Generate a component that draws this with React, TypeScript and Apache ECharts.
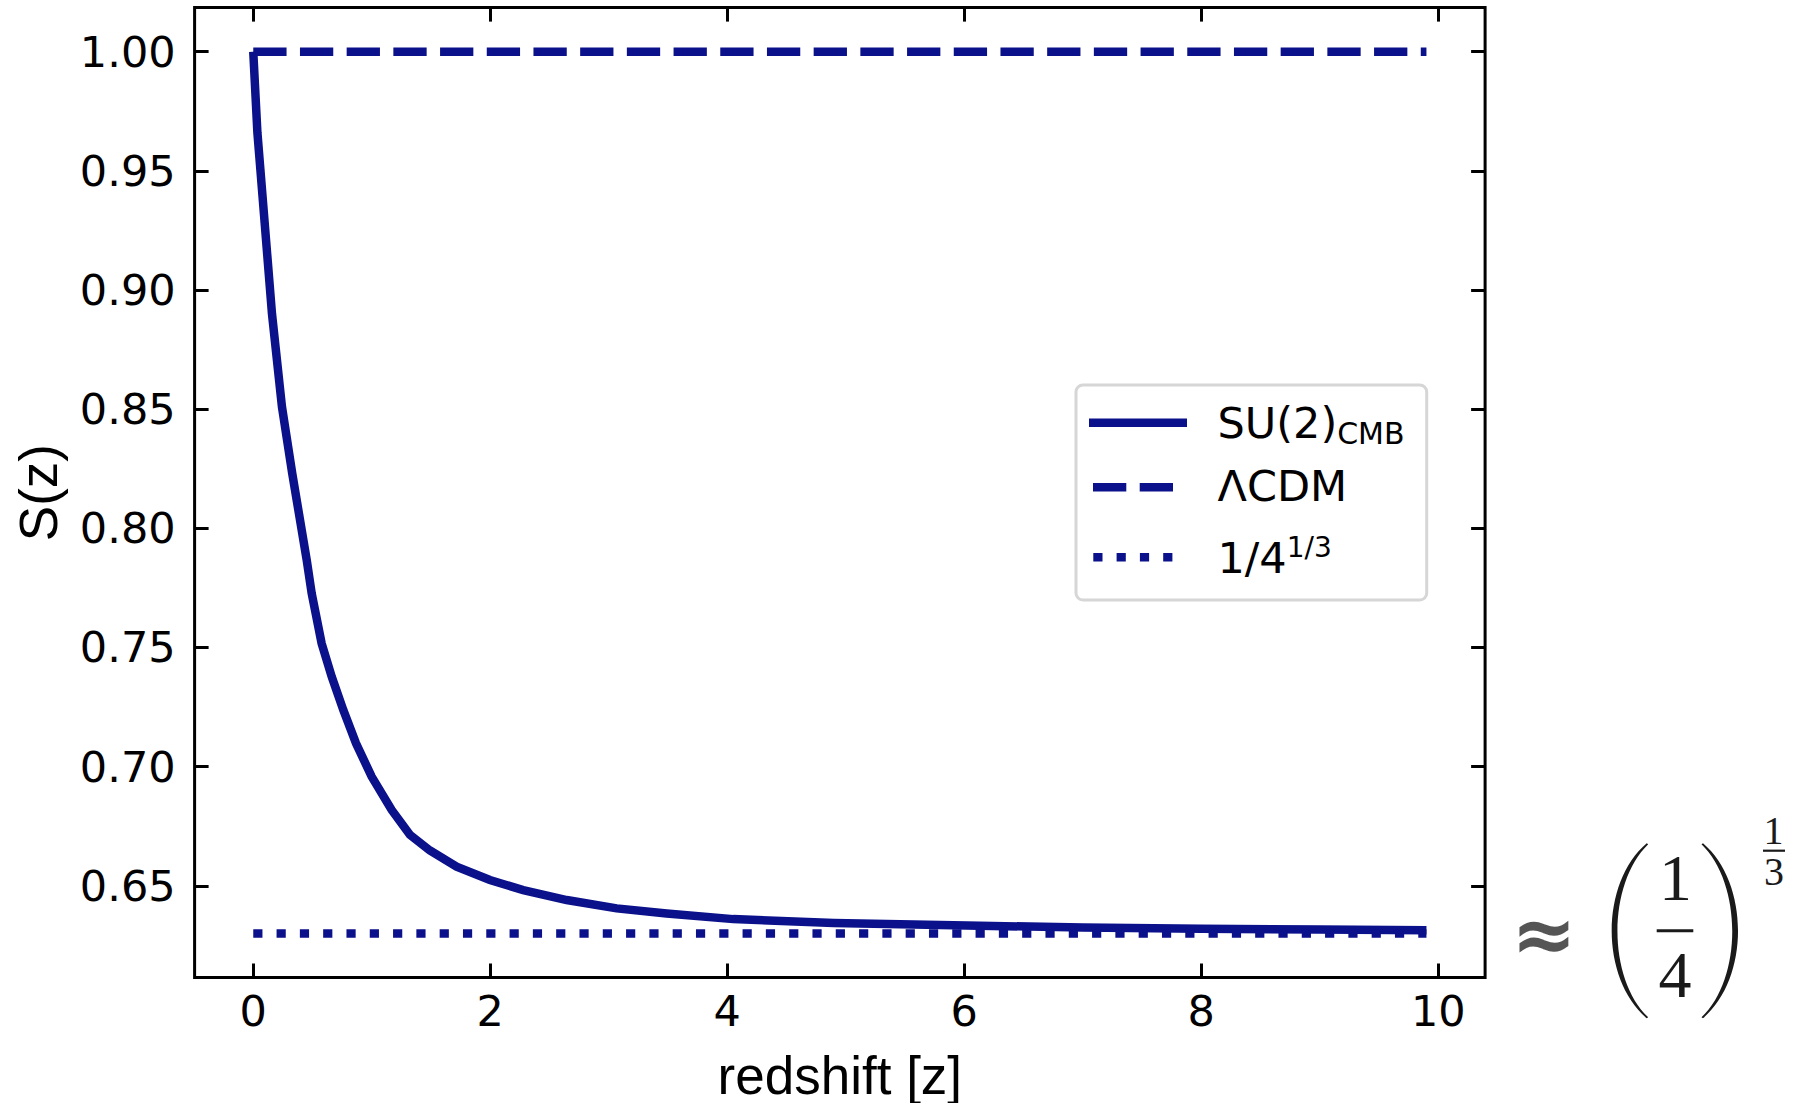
import React, { useEffect, useRef } from "react";
import * as echarts from "echarts";

// ---- data ----
const zSU2 = [0, 0.035, 0.158, 0.242, 0.329, 0.451, 0.493, 0.577, 0.662, 0.76, 0.867, 0.999, 1.168, 1.322, 1.491, 1.716, 1.997, 2.278, 2.645, 3.067, 3.489, 4.05, 4.9, 6.02, 7.0, 8.0, 9.0, 9.9];
const sSU2 = [1.0, 0.966, 0.89, 0.851, 0.823, 0.7867, 0.7727, 0.7517, 0.7377, 0.7237, 0.7098, 0.6958, 0.6818, 0.6714, 0.6648, 0.658, 0.6524, 0.6482, 0.644, 0.6405, 0.6384, 0.636, 0.6344, 0.6333, 0.6325, 0.632, 0.6316, 0.6313];
const zRef = [0, 9.9];
const sLCDM = [1.0, 1.0];
const sLimit = [0.63, 0.63];
const xTicks = [0, 2, 4, 6, 8, 10];
const yTicks = [0.65, 0.7, 0.75, 0.8, 0.85, 0.9, 0.95, 1.0];
const seriesNames = ["SU(2)CMB", "ΛCDM", "1/4^(1/3)"];

const NAVY = "#0b118a";
const LW = 8.5;
const DASH = [33.3, 13.4];
const DOT = [9.2, 14.1];

const PAREN_D = "M35 0 C-11.7 40 -11.7 135 35 175 L36.5 174 C-4.5 135 -4.5 41 36.5 1 Z";
echarts.graphic.registerShape("lparen", echarts.graphic.extendPath(PAREN_D, {}));

const tickFont = { fontFamily: "DejaVu Sans", fontSize: 43, color: "#000" };
const nameFont = { fontFamily: "Liberation Sans", fontSize: 53, color: "#000" };

function pairs(xs: number[], ys: number[]) {
  return xs.map((x, i) => [x, ys[i]]);
}

export default function App() {
  const ref = useRef<HTMLDivElement>(null);
  useEffect(() => {
    if (!ref.current) return;
    const chart = echarts.init(ref.current, undefined, { renderer: "svg" });
    const tickStyle = (vals: number[]) => ({
      show: true,
      inside: true,
      length: 14,
      lineStyle: { color: "#000", width: 3 },
      customValues: vals,
    });
    const noLine = { show: false, onZero: false };
    const xMin = -0.495, xMax = 10.395, yMin = 0.6115, yMax = 1.0185;
    const legendRich = {
      m: { fontFamily: "DejaVu Sans", fontSize: 43, lineHeight: 52 },
      s: { fontFamily: "DejaVu Sans", fontSize: 30, verticalAlign: "bottom" },
      p: { fontFamily: "DejaVu Sans", fontSize: 28, verticalAlign: "top", padding: [2, 0, 0, 0] },
    };
    const serif = "Liberation Serif";
    const eqColor = "#1a1a1a";
    const legendText = (text: string, y: number) => ({
      type: "text", x: 1217.5, y, z: 101,
      style: { text, fill: "#000", align: "left", verticalAlign: "middle", fontFamily: "DejaVu Sans", fontSize: 43, rich: legendRich },
    });
    const option: any = {
      animation: false,
      backgroundColor: "#fff",
      grid: {
        left: 194.6, top: 7.6, width: 1290.5, height: 969.9,
        show: true, borderColor: "#000", borderWidth: 3, backgroundColor: "transparent",
        containLabel: false, outerBoundsMode: "none",
      },
      xAxis: [
        {
          type: "value", position: "bottom", min: xMin, max: xMax,
          axisLine: noLine, splitLine: { show: false },
          axisTick: tickStyle(xTicks),
          axisLabel: { ...tickFont, margin: 12, customValues: xTicks, formatter: (v: number) => String(Math.round(v)) },
          name: "redshift [z]", nameLocation: "middle", nameGap: 71, nameTextStyle: nameFont,
        },
        {
          type: "value", position: "top", min: xMin, max: xMax,
          axisLine: noLine, splitLine: { show: false },
          axisTick: tickStyle(xTicks), axisLabel: { show: false },
        },
      ],
      yAxis: [
        {
          type: "value", position: "left", min: yMin, max: yMax,
          axisLine: noLine, splitLine: { show: false },
          axisTick: tickStyle(yTicks),
          axisLabel: { ...tickFont, margin: 19, customValues: yTicks, formatter: (v: number) => v.toFixed(2) },
          name: "S(z)", nameLocation: "middle", nameGap: 130, nameTextStyle: nameFont,
        },
        {
          type: "value", position: "right", min: yMin, max: yMax,
          axisLine: noLine, splitLine: { show: false },
          axisTick: tickStyle(yTicks), axisLabel: { show: false },
        },
      ],
      series: [
        {
          name: seriesNames[0], type: "line", data: pairs(zSU2, sSU2), symbol: "none", showSymbol: false,
          lineStyle: { color: NAVY, width: LW, cap: "butt", join: "miter" }, itemStyle: { color: NAVY },
        },
        {
          name: seriesNames[1], type: "line", data: pairs(zRef, sLCDM), symbol: "none", showSymbol: false,
          lineStyle: { color: NAVY, width: LW, type: DASH, cap: "butt" }, itemStyle: { color: NAVY },
        },
        {
          name: seriesNames[2], type: "line", data: pairs(zRef, sLimit), symbol: "none", showSymbol: false,
          lineStyle: { color: NAVY, width: LW, type: DOT, cap: "butt" }, itemStyle: { color: NAVY },
        },
      ],
      graphic: {
        elements: [
          // legend box
          {
            type: "rect", shape: { x: 1076, y: 385, width: 350.7, height: 215, r: 7 },
            style: { fill: "#fff", stroke: "#d6d6d6", lineWidth: 3 }, z: 100,
          },
          { type: "line", shape: { x1: 1089, y1: 422.7, x2: 1187, y2: 422.7 }, style: { stroke: NAVY, lineWidth: LW }, z: 101 },
          { type: "line", shape: { x1: 1093, y1: 487.3, x2: 1186, y2: 487.3 }, style: { stroke: NAVY, lineWidth: LW, lineDash: DASH }, z: 101 },
          { type: "line", shape: { x1: 1093.3, y1: 557.3, x2: 1173, y2: 557.3 }, style: { stroke: NAVY, lineWidth: LW, lineDash: DOT }, z: 101 },
          legendText("{m|SU(2)}{s|CMB}", 422.5),
          legendText("{m|ΛCDM}", 486),
          legendText("{m|1/4}{p|1/3}", 557.5),
          // equation on the right
          {
            type: "text", x: 1544, y: 934,
            style: { text: "≈", fill: "#555", align: "center", verticalAlign: "middle", fontFamily: "DejaVu Sans", fontWeight: "bold", fontSize: 78 },
          },
          { type: "lparen", x: 1611.7, y: 843.3, style: { fill: eqColor } },
          { type: "lparen", x: 1738, y: 843.3, scaleX: -1, style: { fill: eqColor } },
          {
            type: "text", x: 1675.5, y: 877.5,
            style: { text: "1", fill: eqColor, align: "center", verticalAlign: "middle", fontFamily: serif, fontSize: 66 },
          },
          { type: "rect", shape: { x: 1656.7, y: 929.2, width: 36.6, height: 3 }, style: { fill: eqColor } },
          {
            type: "text", x: 1675, y: 974,
            style: { text: "4", fill: eqColor, align: "center", verticalAlign: "middle", fontFamily: serif, fontSize: 66 },
          },
          {
            type: "text", x: 1773.5, y: 830,
            style: { text: "1", fill: eqColor, align: "center", verticalAlign: "middle", fontFamily: serif, fontSize: 40 },
          },
          { type: "rect", shape: { x: 1763, y: 849.6, width: 22, height: 2.2 }, style: { fill: eqColor } },
          {
            type: "text", x: 1774, y: 871.5,
            style: { text: "3", fill: eqColor, align: "center", verticalAlign: "middle", fontFamily: serif, fontSize: 40 },
          },
        ],
      },
    };
    chart.setOption(option);
    return () => chart.dispose();
  }, []);
  return (
    <div
      ref={ref}
      style={{ position: "absolute", left: 0, top: 0, width: 1793, height: 1103, background: "#fff" }}
    />
  );
}
